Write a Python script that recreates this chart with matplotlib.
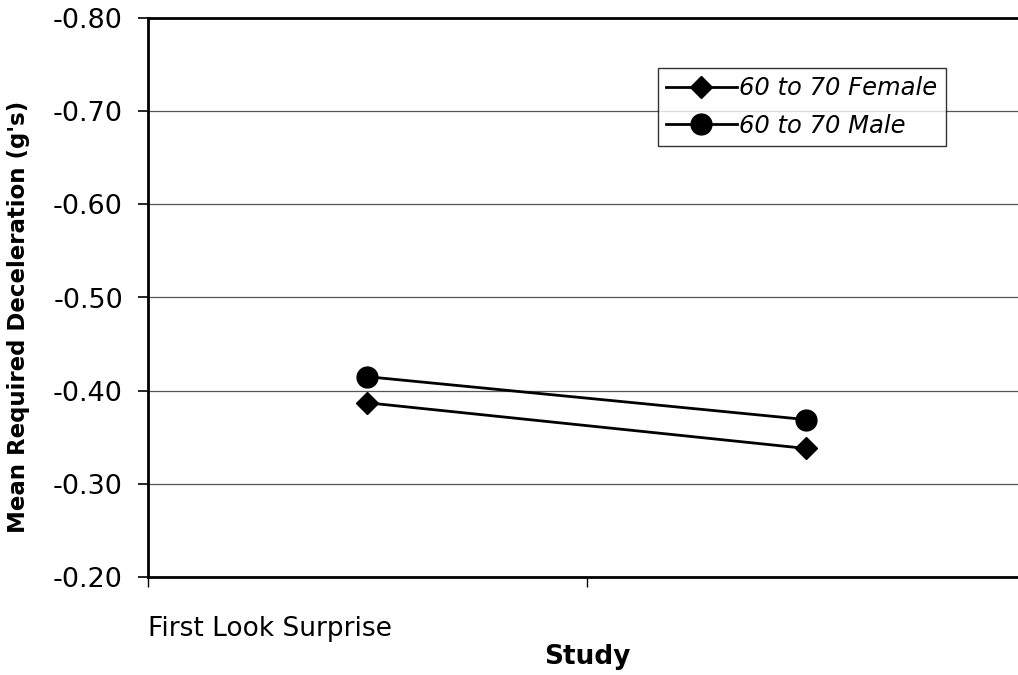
import matplotlib.pyplot as plt

studies = ["First Look Surprise", "Second Study"]
female = [-0.387, -0.338]
male = [-0.415, -0.369]
yticks = [-0.80, -0.70, -0.60, -0.50, -0.40, -0.30, -0.20]


def main():
    fig = plt.figure(figsize=(10.18, 6.75), dpi=100)
    ax = fig.add_axes([148 / 1018, 1 - 577 / 675, 877 / 1018, 559 / 675])

    x = list(range(len(studies)))
    ax.plot(x, female, color="black", linewidth=2, marker="D", markersize=11,
            label="60 to 70 Female")
    ax.plot(x, male, color="black", linewidth=2, marker="o", markersize=15,
            label="60 to 70 Male")

    ax.set_xlim(-0.5, 1.5)
    ax.set_ylim(-0.20, -0.80)
    ax.set_yticks(yticks)
    ax.set_yticklabels(["{0:.2f}".format(v) for v in yticks], fontsize=19.5)
    ax.yaxis.grid(True, color="#555555", linewidth=0.9)
    ax.set_axisbelow(True)
    ax.tick_params(axis="y", length=7, width=1.2, direction="out", pad=11)

    # category boundaries carry the tick marks, labels sit below
    ax.set_xticks([-0.5, 0.5, 1.5])
    ax.set_xticklabels([])
    ax.tick_params(axis="x", length=7, width=1, direction="out")

    for s in ["left", "bottom", "top"]:
        ax.spines[s].set_linewidth(2)
        ax.spines[s].set_color("black")
    ax.spines["right"].set_visible(False)

    fig.text(148 / 1018, 1 - 629 / 675, studies[0], fontsize=19,
             ha="left", va="center")
    fig.text(587 / 1018, 1 - 657 / 675, "Study", fontsize=19,
             fontweight="bold", ha="center", va="center")
    ax.set_ylabel("Mean Required Deceleration (g's)", fontsize=16.5,
                  fontweight="bold")
    ax.yaxis.set_label_coords(-0.1345, 0.465)

    leg = ax.legend(loc="upper left", bbox_to_anchor=(0.581, 0.911),
                    prop={"style": "italic", "size": 17.5}, frameon=True,
                    fancybox=False, borderpad=0.35, handlelength=2.9,
                    handletextpad=0.1, labelspacing=0.55, borderaxespad=0)
    leg.get_frame().set_edgecolor("black")
    leg.get_frame().set_linewidth(1)

    fig.savefig("out.png", dpi=100)


if __name__ == '__main__': main()
